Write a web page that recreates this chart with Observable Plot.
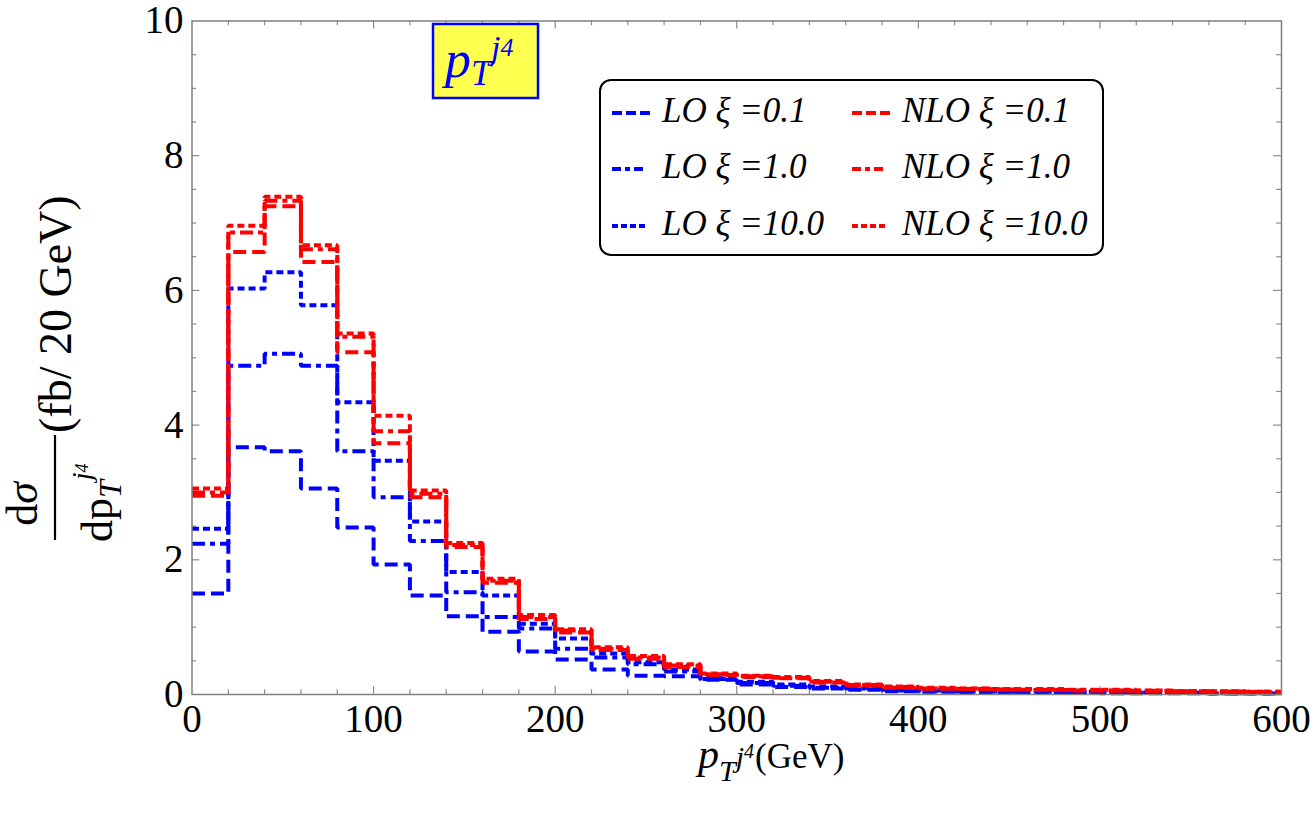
<!DOCTYPE html>
<html>
<head>
<meta charset="utf-8">
<script src="https://cdn.jsdelivr.net/npm/d3@7"></script>
<script src="https://cdn.jsdelivr.net/npm/@observablehq/plot@0.6"></script>
<style>
  body { margin: 0; background: #fff; }
  svg { display: block; }
</style>
</head>
<body>
<div id="chart"></div>
<script>
// Lower edges of the 20 GeV bins and the upper edge of the last one
const binStart = [0, 20, 40, 60, 80, 100, 120, 140, 160, 180, 200, 220, 240, 260, 280,
                  300, 320, 340, 360, 380, 400, 420, 440, 460, 480, 500, 520, 540, 560, 580];
const binEnd = 600;

// dσ/dpT (fb / 20 GeV) per bin
const lo01 = [1.50, 3.67, 3.61, 3.06, 2.48, 1.93, 1.47, 1.16, 0.93, 0.64, 0.52, 0.37, 0.28, 0.27, 0.22,
              0.15, 0.11, 0.09, 0.07, 0.05, 0.04, 0.035, 0.03, 0.03, 0.025, 0.02, 0.02, 0.02, 0.015, 0.015];
const lo1  = [2.24, 4.88, 5.06, 4.88, 3.61, 2.93, 2.28, 1.52, 1.15, 0.98, 0.68, 0.55, 0.45, 0.34, 0.23,
              0.17, 0.13, 0.10, 0.09, 0.06, 0.05, 0.045, 0.04, 0.035, 0.035, 0.03, 0.025, 0.025, 0.02, 0.02];
const lo10 = [2.46, 6.03, 6.27, 5.78, 4.34, 3.47, 2.57, 1.82, 1.47, 1.05, 0.83, 0.61, 0.48, 0.37, 0.24,
              0.19, 0.15, 0.12, 0.10, 0.07, 0.06, 0.05, 0.045, 0.04, 0.04, 0.035, 0.03, 0.03, 0.025, 0.025];
const nlo01 = [2.95, 6.57, 7.25, 6.42, 5.08, 3.73, 2.93, 2.19, 1.66, 1.12, 0.92, 0.66, 0.53, 0.41, 0.29,
               0.26, 0.24, 0.18, 0.13, 0.10, 0.085, 0.08, 0.07, 0.065, 0.06, 0.055, 0.05, 0.045, 0.04, 0.035];
const nlo1  = [3.00, 6.86, 7.33, 6.61, 5.31, 3.91, 2.98, 2.22, 1.69, 1.15, 0.95, 0.68, 0.55, 0.43, 0.30,
               0.27, 0.25, 0.19, 0.14, 0.11, 0.09, 0.085, 0.075, 0.07, 0.065, 0.06, 0.055, 0.05, 0.045, 0.04];
const nlo10 = [3.06, 6.96, 7.39, 6.67, 5.36, 4.14, 3.03, 2.25, 1.72, 1.18, 0.97, 0.70, 0.57, 0.45, 0.31,
               0.28, 0.26, 0.20, 0.15, 0.12, 0.10, 0.09, 0.08, 0.08, 0.07, 0.07, 0.06, 0.05, 0.05, 0.04];

// Axis ticks
const xTicks = [0, 100, 200, 300, 400, 500, 600];
const yTicks = [0, 2, 4, 6, 8, 10];
const xMinorTicks = [20, 40, 60, 80, 120, 140, 160, 180, 220, 240, 260, 280, 320, 340, 360, 380,
                     420, 440, 460, 480, 520, 540, 560, 580];
const xMajorTicks = [100, 200, 300, 400, 500];
const yMinorTicks = [0.5, 1, 1.5, 2.5, 3, 3.5, 4.5, 5, 5.5, 6.5, 7, 7.5, 8.5, 9, 9.5];
const yMajorTicks = [2, 4, 6, 8];

// Series: label order, colours and dash styles
const series = [
  {order: "LO",  xi: "0.1",  color: "#0000ff", dash: "13,6",       key: "dashed",  values: lo01},
  {order: "LO",  xi: "1.0",  color: "#0000ff", dash: "13,5,5,5",   key: "dashdot", values: lo1},
  {order: "LO",  xi: "10.0", color: "#0000ff", dash: "7,4",        key: "dotted",  values: lo10},
  {order: "NLO", xi: "0.1",  color: "#ff0000", dash: "13,6",       key: "dashed",  values: nlo01},
  {order: "NLO", xi: "1.0",  color: "#ff0000", dash: "13,5,5,5",   key: "dashdot", values: nlo1},
  {order: "NLO", xi: "10.0", color: "#ff0000", dash: "7,4",        key: "dotted",  values: nlo10}
];
const legendDash = {dashed: "10,4", dashdot: "9,4,5,4", dotted: "6,3"};

const serif = "'Liberation Serif', 'Times New Roman', Times, serif";
const W = 1315, H = 815;
const mL = 191.5, mR = 34, mT = 20.5, mB = 121;

// pixel lengths converted to data units for the inward frame ticks
const pxX = px => px * (binEnd - 0) / (W - mL - mR);
const pxY = px => px * 10 / (H - mT - mB);

const stepRows = s => binStart.map((x, i) => ({x, y: s.values[i]}))
  .concat([{x: binEnd, y: s.values[s.values.length - 1]}]);

const tickStyle = {stroke: "#8c8c8c", strokeWidth: 1.2};

const chart = Plot.plot({
  width: W,
  height: H,
  marginLeft: mL,
  marginRight: mR,
  marginTop: mT,
  marginBottom: mB,
  x: {domain: [0, 600]},
  y: {domain: [0, 10]},
  style: {fontFamily: serif, fontSize: "39px", background: "white", color: "black", overflow: "visible"},
  marks: [
    Plot.axisX({ticks: xTicks, tickSize: 0, tickPadding: 10, label: null, fontSize: 39, tickFormat: d => String(d)}),
    Plot.axisY({ticks: yTicks, tickSize: 0, tickPadding: 8.5, label: null, fontSize: 39, tickFormat: d => String(d)}),
    // inward ticks on all four sides
    Plot.ruleX(xMinorTicks, {x: d => d, y1: 0, y2: pxY(4.7), ...tickStyle}),
    Plot.ruleX(xMajorTicks, {x: d => d, y1: 0, y2: pxY(8), ...tickStyle}),
    Plot.ruleX(xMinorTicks, {x: d => d, y1: 10, y2: 10 - pxY(4.7), ...tickStyle}),
    Plot.ruleX(xMajorTicks, {x: d => d, y1: 10, y2: 10 - pxY(8), ...tickStyle}),
    Plot.ruleY(yMinorTicks, {y: d => d, x1: 0, x2: pxX(4.7), ...tickStyle}),
    Plot.ruleY(yMajorTicks, {y: d => d, x1: 0, x2: pxX(8), ...tickStyle}),
    Plot.ruleY(yMinorTicks, {y: d => d, x1: 600, x2: 600 - pxX(4.7), ...tickStyle}),
    Plot.ruleY(yMajorTicks, {y: d => d, x1: 600, x2: 600 - pxX(8), ...tickStyle}),
    // step histograms
    ...series.map(s => Plot.line(stepRows(s), {
      x: "x", y: "y", curve: "step-after",
      stroke: s.color, strokeWidth: 4, strokeDasharray: s.dash,
      strokeLinejoin: "miter", strokeLinecap: "butt"
    })),
    Plot.frame({stroke: "#808080", strokeWidth: 1.5})
  ]
});

document.getElementById("chart").appendChild(chart);

const svg = d3.select(chart);

// rotated group placed at a screen point; text inside is laid out along the rotated baseline
function rotated(x, y) {
  return svg.append("g").attr("transform", `translate(${x},${y})`)
    .append("g").attr("transform", "rotate(-90)");
}

// ---- y-axis label: dσ / dpT^{j4} (fb/ 20 GeV) ----
const num = rotated(37, 504).append("text").attr("x", 0).attr("y", 0)
  .attr("text-anchor", "middle").attr("font-family", serif).attr("font-size", 44)
  .attr("fill", "black");
num.append("tspan").text("d");
num.append("tspan").attr("font-style", "italic").text("σ");
svg.append("line").attr("x1", 55).attr("x2", 55).attr("y1", 435).attr("y2", 540)
  .attr("stroke", "black").attr("stroke-width", 2.2);
const den = rotated(112, 542).append("text").attr("x", 0).attr("y", 0)
  .attr("text-anchor", "start").attr("font-family", serif).attr("font-size", 44).attr("fill", "black");
den.append("tspan").text("dp");
den.append("tspan").attr("font-style", "italic").attr("font-size", 32).attr("dy", 9).text("T");
den.append("tspan").attr("font-style", "italic").attr("font-size", 28).attr("dy", -30).text("j");
den.append("tspan").attr("font-style", "italic").attr("font-size", 18).attr("dy", -3).text("4");
rotated(71, 433).append("text").attr("x", 0).attr("y", 0)
  .attr("text-anchor", "start").attr("font-family", serif).attr("font-size", 46)
  .attr("fill", "black").text("(fb/ 20 GeV)");

// ---- x-axis label: pT^{j4}(GeV) ----
const xl = svg.append("text").attr("x", 698).attr("y", 768).attr("text-anchor", "start")
  .attr("font-family", serif).attr("font-size", 42).attr("fill", "black");
xl.append("tspan").attr("font-style", "italic").text("p");
xl.append("tspan").attr("font-style", "italic").attr("font-size", 30).attr("dy", 13).text("T");
xl.append("tspan").attr("font-style", "italic").attr("font-size", 30).attr("dy", -14).text("j");
xl.append("tspan").attr("font-style", "italic").attr("font-size", 20).attr("dy", -9).text("4");
xl.append("tspan").attr("font-size", 35).attr("dy", 10).attr("dx", 1).text("(GeV)");

// ---- boxed title ----
const tg = svg.append("g");
tg.append("rect").attr("x", 433).attr("y", 24).attr("width", 105).attr("height", 74)
  .attr("fill", "#ffff50").attr("stroke", "#0000ff").attr("stroke-width", 2.5);
const tt = tg.append("text").attr("x", 445).attr("y", 77).attr("text-anchor", "start")
  .attr("font-family", serif).attr("font-size", 52).attr("fill", "#0000ff").attr("font-style", "italic");
tt.append("tspan").text("p");
tt.append("tspan").attr("font-size", 36).attr("dy", 8).text("T");
tt.append("tspan").attr("font-size", 34).attr("dy", -26).text("j");
tt.append("tspan").attr("font-size", 26).attr("dy", -3).text("4");

// ---- legend ----
const lg = svg.append("g").attr("font-family", serif);
lg.append("rect").attr("x", 600).attr("y", 80).attr("width", 503).attr("height", 175)
  .attr("rx", 11).attr("fill", "white").attr("stroke", "black").attr("stroke-width", 2);
const rowY = [122, 178, 235];
const colX = [612, 852];
const sampleLen = {dashed: 38, dashdot: 31, dotted: 33};
series.forEach((s, i) => {
  const col = s.order === "LO" ? 0 : 1;
  const row = i % 3;
  const y = rowY[row];
  lg.append("line").attr("x1", colX[col]).attr("x2", colX[col] + sampleLen[s.key])
    .attr("y1", y - 9).attr("y2", y - 9)
    .attr("stroke", s.color).attr("stroke-width", 4).attr("stroke-dasharray", legendDash[s.key]);
  lg.append("text").attr("x", colX[col] + 50).attr("y", y).attr("text-anchor", "start")
    .attr("font-size", 35).attr("font-style", "italic").attr("fill", "black")
    .text(`${s.order} ξ =${s.xi}`);
});
</script>
</body>
</html>
